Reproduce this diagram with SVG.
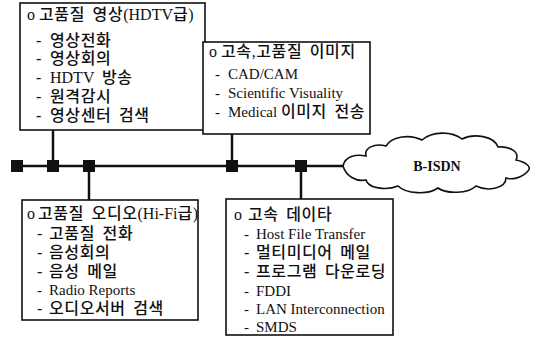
<svg xmlns="http://www.w3.org/2000/svg" width="539" height="343" viewBox="0 0 539 343">
<style>
.box{fill:#fff;stroke:#111;stroke-width:1.6}
.t{font-family:"Liberation Serif","Noto Sans CJK KR",serif;font-size:16px;fill:#111;letter-spacing:0.6px;word-spacing:3px;font-weight:500}
.e{font-family:"Liberation Serif","Noto Sans CJK KR",serif;font-size:15px;fill:#111}
.l{letter-spacing:0;font-weight:normal}
.ln{stroke:#111;stroke-width:2.5;fill:none}
.sq{fill:#111}
</style>
<rect width="539" height="343" fill="#fff"/>
<g id="connectors">
<line class="ln" x1="17" y1="166" x2="344" y2="166"/>
<line class="ln" x1="53" y1="130" x2="53" y2="166"/>
<line class="ln" x1="232" y1="134" x2="232" y2="166"/>
<line class="ln" x1="89" y1="166" x2="89" y2="200"/>
<line class="ln" x1="301" y1="166" x2="301" y2="199"/>
</g>
<g id="taps">
<rect class="sq" x="11" y="160" width="12" height="12"/>
<rect class="sq" x="47" y="160" width="12" height="12"/>
<rect class="sq" x="83" y="160" width="12" height="12"/>
<rect class="sq" x="226" y="160" width="12" height="12"/>
<rect class="sq" x="295" y="160" width="12" height="12"/>
</g>
<g id="video">
<rect class="box" x="20" y="3" width="185" height="127"/>
<text class="t" x="27" y="20"><tspan class="l">o</tspan><tspan x="39">고품질 영상</tspan><tspan class="l">(HDTV</tspan>급<tspan class="l">)</tspan></text>
<text class="t" y="46"><tspan x="36">-</tspan><tspan x="50">영상전화</tspan></text>
<text class="t" y="64"><tspan x="36">-</tspan><tspan x="50">영상회의</tspan></text>
<text class="t" y="83"><tspan x="36">-</tspan><tspan x="50" class="l">HDTV</tspan> 방송</text>
<text class="t" y="102"><tspan x="36">-</tspan><tspan x="50">원격감시</tspan></text>
<text class="t" y="121"><tspan x="36">-</tspan><tspan x="50">영상센터 검색</tspan></text>
</g>
<g id="image">
<rect class="box" x="203" y="42" width="167" height="92"/>
<text class="t" y="57"><tspan x="209" class="l">o</tspan><tspan x="221">고속,고품질 이미지</tspan></text>
<text class="e" y="79"><tspan x="215">-</tspan><tspan x="228">CAD/CAM</tspan></text>
<text class="e" y="98"><tspan x="215">-</tspan><tspan x="228">Scientific Visuality</tspan></text>
<text class="e" y="117"><tspan x="215">-</tspan><tspan x="228">Medical </tspan><tspan class="t">이미지 전송</tspan></text>
</g>
<g id="audio">
<rect class="box" x="22" y="200" width="176" height="120"/>
<text class="t" y="219"><tspan x="27" class="l">o</tspan><tspan x="38">고품질 오디오</tspan><tspan class="l">(Hi-Fi</tspan>급<tspan class="l">)</tspan></text>
<text class="t" y="239"><tspan x="37">-</tspan><tspan x="49">고품질 전화</tspan></text>
<text class="t" y="258"><tspan x="37">-</tspan><tspan x="49">음성회의</tspan></text>
<text class="t" y="277"><tspan x="37">-</tspan><tspan x="49">음성 메일</tspan></text>
<text class="e" y="295"><tspan x="37">-</tspan><tspan x="49">Radio Reports</tspan></text>
<text class="t" y="314"><tspan x="37">-</tspan><tspan x="49">오디오서버 검색</tspan></text>
</g>
<g id="data">
<rect class="box" x="226" y="199" width="167" height="136"/>
<text class="t" y="220"><tspan x="234" class="l">o</tspan><tspan x="248">고속 데이타</tspan></text>
<text class="e" y="239"><tspan x="244">-</tspan><tspan x="256">Host File Transfer</tspan></text>
<text class="t" y="258"><tspan x="244">-</tspan><tspan x="256">멀티미디어 메일</tspan></text>
<text class="t" y="277"><tspan x="244">-</tspan><tspan x="256">프로그램 다운로딩</tspan></text>
<text class="e" y="296"><tspan x="244">-</tspan><tspan x="256">FDDI</tspan></text>
<text class="e" y="314"><tspan x="244">-</tspan><tspan x="256">LAN Interconnection</tspan></text>
<text class="e" y="332"><tspan x="244">-</tspan><tspan x="256">SMDS</tspan></text>
</g>
<g id="bisdn">
<path d="M343,166 C345,156 356,154 366,156 C364,148 374,143 386,146 C392,136 410,134 422,140 C432,131 452,131 462,139 C474,133 494,136 498,147 C510,146 520,152 516,160 C526,162 532,167 528,171 C522,178 512,180 506,178 C506,188 488,192 476,186 C468,194 446,194 438,188 C428,195 406,194 398,186 C386,191 368,188 366,180 C356,182 346,176 343,166 Z" fill="#fff" stroke="#111" stroke-width="1.6"/>
<text x="437" y="171" text-anchor="middle" font-family="Liberation Serif, serif" font-size="14" font-weight="bold" fill="#111">B-ISDN</text>
</g>
</svg>
